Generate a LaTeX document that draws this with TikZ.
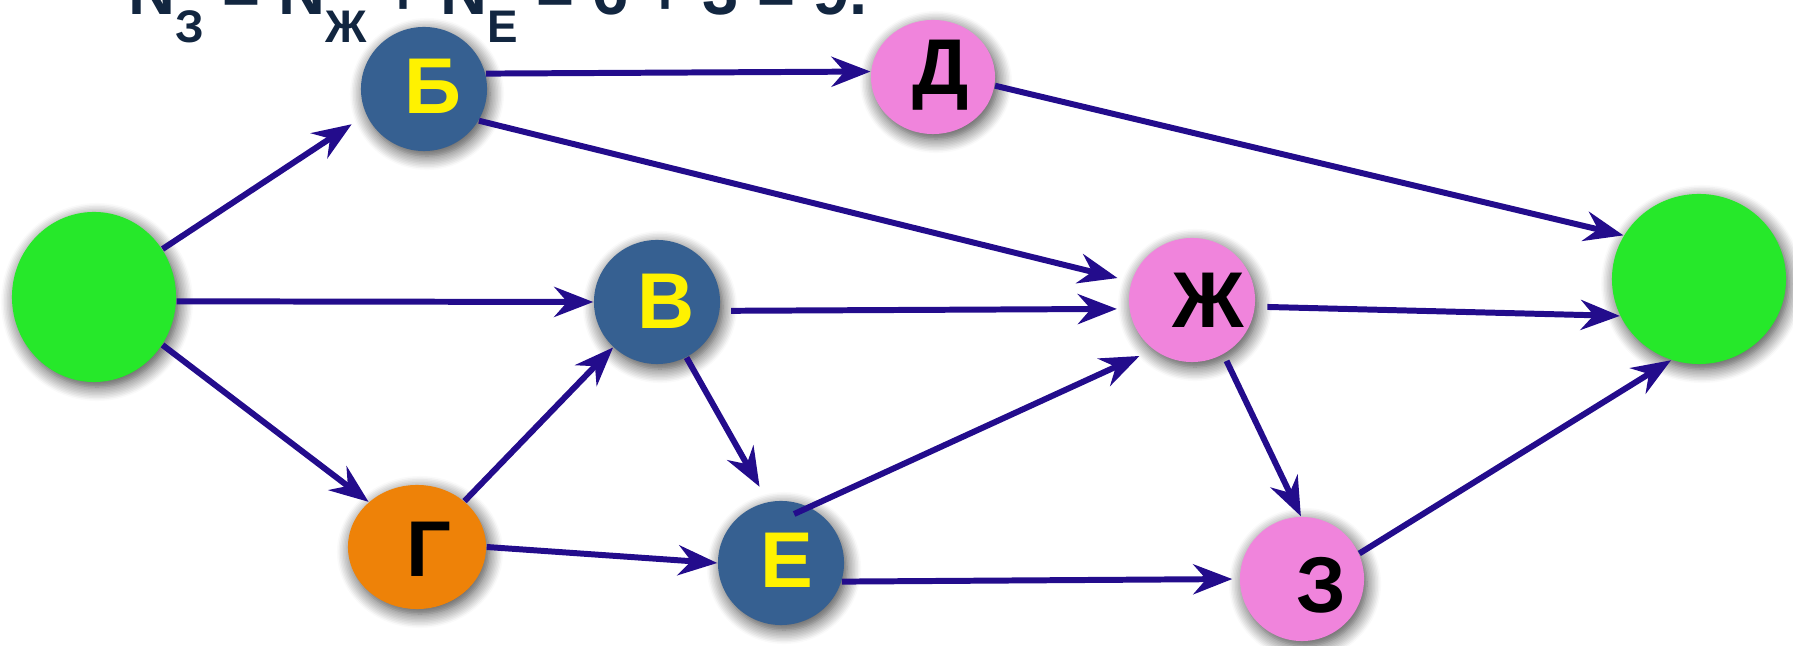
\documentclass[tikz,border=0pt]{standalone}
\usepackage{fontspec}
\setmainfont{Liberation Sans}
\usepackage{xcolor}
\definecolor{nodeblue}{RGB}{54,96,145}
\definecolor{nodepink}{RGB}{240,132,220}
\definecolor{nodeorange}{RGB}{238,130,8}
\definecolor{nodegreen}{RGB}{38,232,42}
\definecolor{arrowblue}{RGB}{35,12,140}
\definecolor{textnavy}{RGB}{18,38,64}
\usetikzlibrary{arrows.meta,shapes.geometric,shadows.blur}

\begin{document}
\begin{tikzpicture}[
  x=0.01cm,y=-0.01cm,
  vertex/.style={ellipse,inner sep=0pt,
    blur shadow={shadow xshift=0.3mm,shadow yshift=-0.5mm,shadow blur radius=1.4mm,shadow blur steps=10,shadow opacity=75}},
  ltr/.style={inner sep=0pt,font=\bfseries\fontsize{22.5}{23}\selectfont},
  arr/.style={-{Stealth[length=3.9mm,width=3mm,inset=1.3mm]},line width=1.7pt,arrowblue}
]
  \useasboundingbox (0,0) rectangle (1793,646);
  % Formula (cut at the top)
  \node[anchor=base west,inner sep=0pt,text=textnavy,font=\bfseries\fontsize{18.5}{20}\selectfont] (formula) at (128,15)
    {N\raisebox{-7.7pt}{\fontsize{13}{13}\selectfont З} = N\raisebox{-7.7pt}{\fontsize{13}{13}\selectfont Ж} + N\raisebox{-7.7pt}{\fontsize{13}{13}\selectfont Е} = 6 + 3 = 9.};
  % Vertices
  \node[vertex,fill=nodegreen,minimum width=1.64cm,minimum height=1.70cm] (start) at (94,297) {};
  \node[vertex,fill=nodeblue,minimum width=1.26cm,minimum height=1.24cm] (b) at (424,89) {};
  \node[vertex,fill=nodepink,minimum width=1.24cm,minimum height=1.14cm] (d) at (933,77) {};
  \node[vertex,fill=nodeblue,minimum width=1.26cm,minimum height=1.24cm] (v) at (657,302) {};
  \node[vertex,fill=nodeorange,minimum width=1.38cm,minimum height=1.24cm] (g) at (417,547) {};
  \node[vertex,fill=nodeblue,minimum width=1.26cm,minimum height=1.24cm] (e) at (781,563) {};
  \node[vertex,fill=nodepink,minimum width=1.26cm,minimum height=1.24cm] (zh) at (1192,300) {};
  \node[vertex,fill=nodepink,minimum width=1.24cm,minimum height=1.24cm] (z) at (1302,579) {};
  \node[vertex,fill=nodegreen,minimum width=1.74cm,minimum height=1.70cm] (finish) at (1699,279) {};
  % Letters
  \node[ltr,text=yellow] (bl) at (433,86) {Б};
  \node[ltr,text=black] (dl) at (941,75) {Д};
  \node[ltr,text=yellow] (vl) at (666,301) {В};
  \node[ltr,text=black] (gl) at (429,549) {Г};
  \node[ltr,text=yellow] (el) at (787,560) {Е};
  \node[ltr,text=black] (zhl) at (1208,300) {Ж};
  \node[ltr,text=black] (zl) at (1321,585) {З};
  % Arrows
  \draw[arr,shorten >=0.17cm] (start.35) -- (b.204);
  \draw[arr] (start.-3) -- (v.180);
  \draw[arr] (start.-35) -- (g.137);
  \draw[arr] (b.14) -- (d.175);
  \draw[arr,shorten >=0.14cm] (b.-30) -- (zh.163);
  \draw[arr] (d.-8) -- (finish.150);
  \draw[arr,shorten <=0.11cm,shorten >=0.12cm] (v.-8) -- (zh.188);
  \draw[arr,shorten >=0.17cm] (v.-62) -- (e.102);
  \draw[arr] (g.44) -- (v.226);
  \draw[arr] (g.east) -- (e.west);
  \draw[arr,shorten <=-0.17cm,shorten >=0.15cm] (e.63) -- (zh.232);
  \draw[arr,shorten >=0.07cm] (e.-17) -- (z.180);
  \draw[arr,shorten <=0.12cm] (zh.-6) -- (finish.205);
  \draw[arr,shorten <=0.07cm] (zh.-60) -- (z.91);
  \draw[arr] (z.24) -- (finish.251);
\end{tikzpicture}
\end{document}
